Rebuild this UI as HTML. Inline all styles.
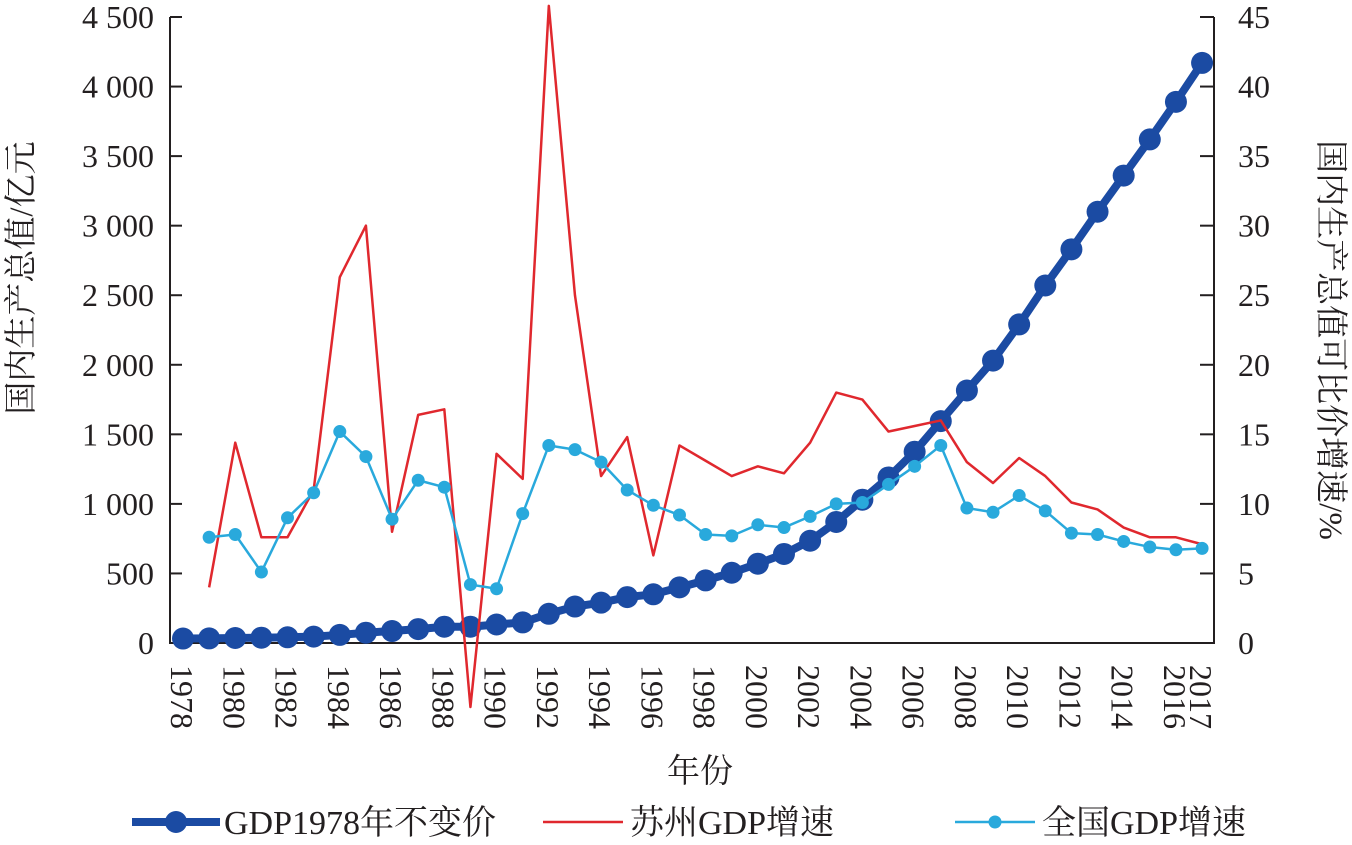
<!DOCTYPE html>
<html><head><meta charset="utf-8"><style>
body{margin:0;background:#fff}
svg text{font-family:"Liberation Serif","Noto Serif CJK SC",serif;fill:#231f20}
</style></head><body>
<svg id="chart" width="1352" height="840" xmlns="http://www.w3.org/2000/svg">
<g id="axes"></g><g id="series"></g>
<text transform="translate(32,278) rotate(-90)" text-anchor="middle" font-size="33">国内生产总值/亿元</text>
<text transform="translate(1320,340) rotate(90)" text-anchor="middle" font-size="33">国内生产总值可比价增速/%</text>
<text x="700" y="782" text-anchor="middle" font-size="33">年份</text>
<g>
<line x1="132" y1="822" x2="220" y2="822" stroke="#1b4ba3" stroke-width="8"/>
<circle cx="176" cy="822" r="11" fill="#1b4ba3"/>
<text x="224" y="834" font-size="34">GDP1978年不变价</text>
<line x1="543" y1="822" x2="623" y2="822" stroke="#e0282e" stroke-width="2.5"/>
<text x="630" y="834" font-size="34">苏州GDP增速</text>
<line x1="955" y1="822" x2="1035" y2="822" stroke="#29a9dc" stroke-width="2.5"/>
<circle cx="995" cy="822" r="6.5" fill="#29a9dc"/>
<text x="1042" y="834" font-size="34">全国GDP增速</text>
</g>
</svg>
<script>
const years=[];for(let y=1978;y<=2017;y++)years.push(y);
const gdp=[32,33,36,38,41,46,58,74,86,100,117,117,133,148,210,262,290,330,350,400,450,505,570,640,735,870,1030,1190,1375,1595,1815,2030,2290,2570,2830,3100,3360,3620,3890,4170];
const szGrowth=[null,4,14.4,7.6,7.6,11,26.3,30,8,16.4,16.8,-4.6,13.6,11.8,45.8,25,12,14.8,6.3,14.2,13.1,12.0,12.7,12.2,14.4,18,17.5,15.2,15.6,16,13,11.5,13.3,12,10.1,9.6,8.3,7.6,7.6,7.1];
const cnGrowth=[null,7.6,7.8,5.1,9.0,10.8,15.2,13.4,8.9,11.7,11.2,4.2,3.9,9.3,14.2,13.9,13.0,11.0,9.9,9.2,7.8,7.7,8.5,8.3,9.1,10.0,10.1,11.4,12.7,14.2,9.7,9.4,10.6,9.5,7.9,7.8,7.3,6.9,6.7,6.8];
const leftTicks=[0,500,1000,1500,2000,2500,3000,3500,4000,4500];
const leftLabels=["0","500","1 000","1 500","2 000","2 500","3 000","3 500","4 000","4 500"];
const rightTicks=[0,5,10,15,20,25,30,35,40,45];
const NS="http://www.w3.org/2000/svg";
const X0=170,X1=1214,Y0=643,Y1=17;
const xs=y=>183+(y-1978)*26.13;
const yL=v=>Y0-(v/4500)*(Y0-Y1);
const yR=v=>Y0-(v/45)*(Y0-Y1);
function mk(t,a,p){const e=document.createElementNS(NS,t);for(const k in a)e.setAttribute(k,a[k]);p.appendChild(e);return e;}
const ax=document.getElementById('axes'),se=document.getElementById('series');
let e=mk('path',{d:`M${X0},${Y1}V${Y0}H${X1}V${Y1}`,fill:'none',stroke:'#231f20','stroke-width':2},ax);

leftTicks.forEach((v,i)=>{const t=mk('text',{x:X0-16,y:yL(v)+11,'text-anchor':'end','font-size':32},ax);t.textContent=leftLabels[i];

mk('line',{x1:X0,x2:X0+12,y1:yL(v),y2:yL(v),stroke:'#231f20','stroke-width':2},ax);});
rightTicks.forEach(v=>{const t=mk('text',{x:X1+24,y:yR(v)+11,'font-size':32},ax);t.textContent=v;

mk('line',{x1:X1-14,x2:X1,y1:yR(v),y2:yR(v),stroke:'#231f20','stroke-width':2},ax);});
years.forEach(y=>{if(y%2===0||y===2017){const t=mk('text',{transform:`translate(${xs(y)-12},${Y0+22}) rotate(90)`,'font-size':32},ax);t.textContent=y;
}});
function line(vals,fy,color,w,name){let d='';vals.forEach((v,i)=>{if(v===null)return;d+=(d?'L':'M')+xs(years[i])+','+fy(v);});
const p=mk('path',{d,fill:'none',stroke:color,'stroke-width':w,'stroke-linejoin':'round'},se);
}
function dots(vals,fy,color,r,name){vals.forEach((v,i)=>{if(v===null)return;const c=mk('circle',{cx:xs(years[i]),cy:fy(v),r,fill:color},se);
});}
line(gdp,yL,'#1b4ba3',8,'gdp-line');dots(gdp,yL,'#1b4ba3',11,'gdp-point');
line(szGrowth,yR,'#e0282e',2.5,'suzhou-growth-line');
line(cnGrowth,yR,'#29a9dc',2.5,'national-growth-line');dots(cnGrowth,yR,'#29a9dc',6.5,'national-growth-point');
</script>
</body></html>
